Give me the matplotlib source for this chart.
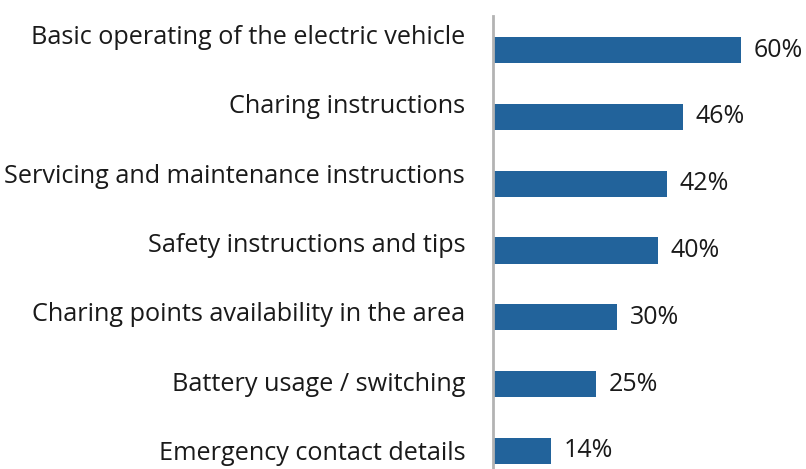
import matplotlib
matplotlib.use("Agg")
from matplotlib import pyplot as plt
import numpy as np

## Data ##
categories = [
    "Basic operating of the electric vehicle",
    "Charing instructions",
    "Servicing and maintenance instructions",
    "Safety instructions and tips",
    "Charing points availability in the area",
    "Battery usage / switching",
    "Emergency contact details",
]
values = [60, 46, 42, 40, 30, 25, 14]

bar_color = "#22639b"
axis_color = "#b3b3b3"

plt.rcParams["font.family"] = ["Open Sans", "DejaVu Sans"]

fig = plt.figure(figsize=(8.06, 4.69), dpi=100)
W, H = 806, 469
left, top, bottom = 493, 16, 469
ax = fig.add_axes([left / W, 1 - bottom / H, 1 - left / W, (bottom - top) / H])

pos = np.arange(len(categories))
bars = ax.barh(pos, values, height=0.39, color=bar_color)
ax.set_xlim(0, (W - left) / 4.133)
ax.set_ylim(6.27, -0.51)

ax.bar_label(bars, labels=[f"{v}%" for v in values], padding=9,
             fontsize=18, color="#1a1a1a")

for s in ["top", "right", "bottom"]:
    ax.spines[s].set_visible(False)
ax.spines["left"].set_color(axis_color)
ax.spines["left"].set_linewidth(2)
ax.set_xticks([])
ax.set_yticks([])

## Category labels (own scale, slightly wider spacing than the bars) ##
ax2 = ax.twinx()
ax2.set_ylim(6.259, -0.259)
ax2.set_yticks(pos)
ax2.set_yticklabels(categories, fontsize=18.2, color="#1a1a1a")
ax2.yaxis.tick_left()
ax2.tick_params(axis="y", length=0, pad=20)
for s in ax2.spines.values():
    s.set_visible(False)
ax2.set_xticks([])

fig.savefig("out.png", dpi=100)
